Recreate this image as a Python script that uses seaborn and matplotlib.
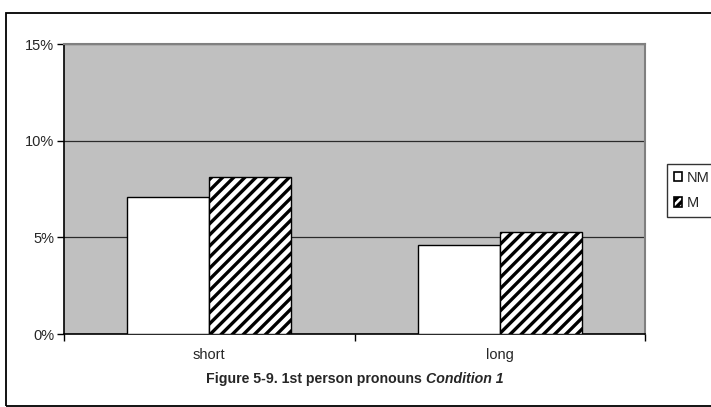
import matplotlib
matplotlib.use("Agg")
import matplotlib.pyplot as plt
import seaborn as sns
import pandas as pd
from matplotlib.patches import Rectangle, Patch
from matplotlib.ticker import FuncFormatter, FixedLocator
from matplotlib.offsetbox import TextArea, HPacker, AnchoredOffsetbox

categories = ["short", "long"]
series = ["NM", "M"]
nm_values = [7.1, 4.6]
m_values = [8.1, 5.3]
y_ticks = [0, 5, 10, 15]
caption_main = "Figure 5-9. 1st person pronouns "
caption_italic = "Condition 1"

df = pd.DataFrame({
    "cat": categories * 2,
    "series": ["NM"] * 2 + ["M"] * 2,
    "value": nm_values + m_values,
})

sns.set_style("white")
plt.rcParams["font.family"] = ["Liberation Sans", "DejaVu Sans"]
plt.rcParams["hatch.linewidth"] = 2.4

fig = plt.figure(figsize=(7.11, 4.07), dpi=100)
ax = fig.add_axes([64/711, 1-334/407, (645-64)/711, (334-44)/407])
ax.set_facecolor("#C0C0C0")

sns.barplot(data=df, x="cat", y="value", hue="series", order=categories,
            hue_order=series, palette=["white", "white"], edgecolor="black",
            linewidth=1.0, width=0.565, gap=0, ax=ax, legend=False, zorder=3)

for patch in ax.containers[1]:
    patch.set_hatch("///")

ax.set_ylim(0, 15)
ax.set_xlim(-0.5, 1.5)
ax.set_yticks(y_ticks)
ax.yaxis.set_major_formatter(FuncFormatter(lambda v, p: f"{int(v)}%"))
ax.yaxis.grid(True, color="#2a2a2a", linewidth=0.9, zorder=1)
ax.set_axisbelow(True)
ax.set_xlabel("")
ax.set_ylabel("")

fs = 10.5
ax.tick_params(axis="y", which="major", direction="out", length=5, width=1,
               color="black", labelsize=fs, pad=2, left=True)
ax.tick_params(axis="x", which="major", length=0, labelsize=fs, pad=10)
ax.xaxis.set_minor_locator(FixedLocator([-0.5, 0.5, 1.5]))
ax.tick_params(axis="x", which="minor", direction="out", length=5, width=1,
               color="black", bottom=True)

for side in ["left", "bottom"]:
    ax.spines[side].set_color("black")
    ax.spines[side].set_linewidth(1.2)
for side in ["top", "right"]:
    ax.spines[side].set_color("#808080")
    ax.spines[side].set_linewidth(1.5)
    ax.spines[side].set_visible(True)

handles = [Patch(facecolor="white", edgecolor="black", linewidth=1.2),
           Patch(facecolor="white", edgecolor="black", linewidth=1.2, hatch="////")]
leg = fig.legend(handles, series, loc="upper left", bbox_to_anchor=(667/711, 1-164/407),
                 borderaxespad=0, frameon=True, fancybox=False, fontsize=fs,
                 handlelength=0.6, handleheight=0.6, handletextpad=0.3,
                 labelspacing=0.8, borderpad=0.45)
leg.get_frame().set_edgecolor("black")
leg.get_frame().set_linewidth(1.0)

# caption
cfs = 10.2
ta1 = TextArea(caption_main, textprops=dict(fontsize=cfs, fontweight="bold"))
ta2 = TextArea(caption_italic, textprops=dict(fontsize=cfs, fontweight="bold", style="italic"))
box = HPacker(children=[ta1, ta2], align="baseline", pad=0, sep=0)
ab = AnchoredOffsetbox(loc="center", child=box, frameon=False,
                       bbox_to_anchor=(355/711, 1-379/407), bbox_transform=fig.transFigure,
                       pad=0, borderpad=0)
fig.add_artist(ab)

# outer frame
fig.add_artist(Rectangle((6/711, 1/407), 1.1, (406-13)/407, transform=fig.transFigure,
                         fill=False, edgecolor="black", linewidth=1.3, clip_on=False))

fig.savefig("out.png", dpi=100)
